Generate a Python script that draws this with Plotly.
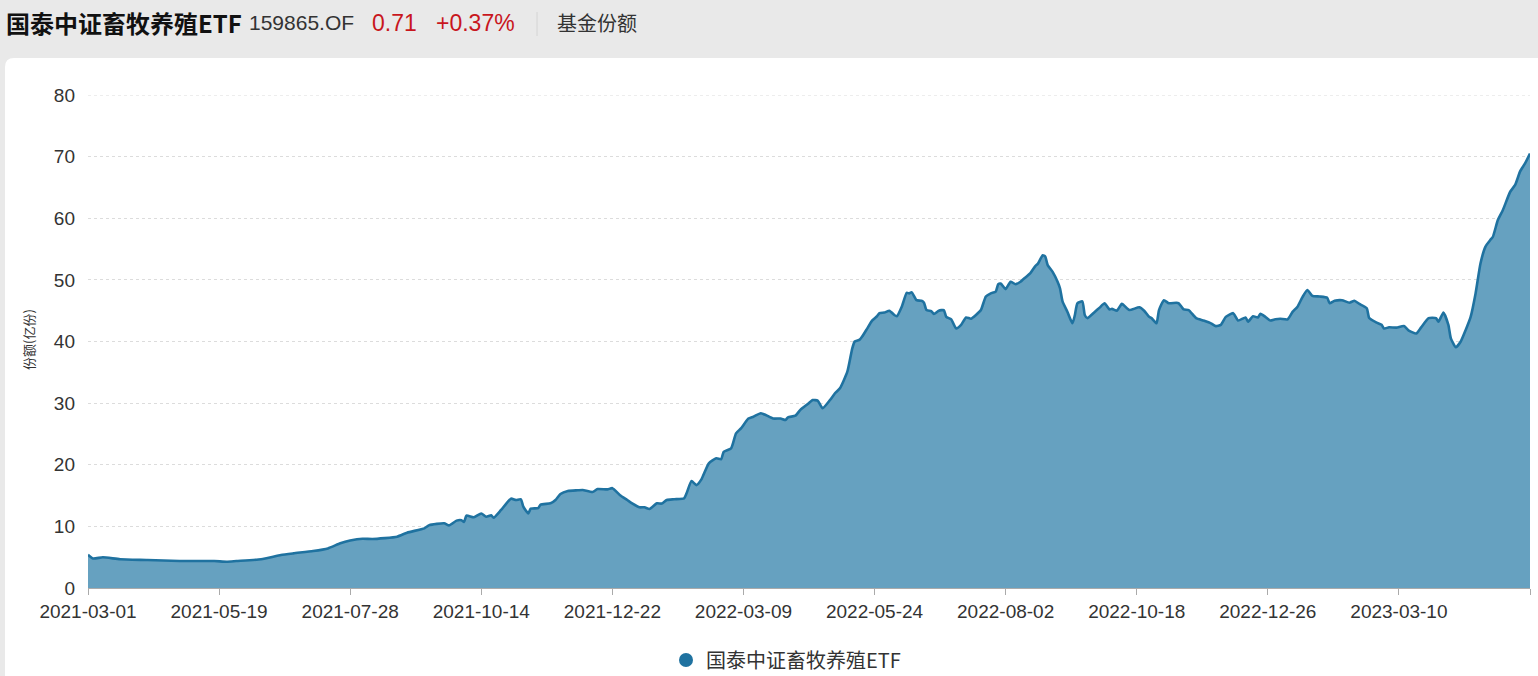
import plotly.graph_objects as go

# ---- data (trading-day index since 2021-03-01, fund shares in 亿份) ----
day_index = [0, 2, 6, 13, 24, 37, 51, 56, 60, 70, 78, 83, 91, 97, 102, 106, 111, 115, 125, 129,
             136, 138, 144, 146, 149, 151, 152, 153, 156, 159, 161, 163, 164, 167, 171, 173, 175, 176, 178, 179,
             182, 183, 187, 189, 191, 194, 198, 200, 204, 206, 210, 212, 215, 218, 220, 223, 225, 227, 230, 232,
             234, 237, 241, 242, 244, 246, 248, 251, 254, 256, 257, 260, 262, 264, 267, 269, 272, 274, 277, 280,
             282, 283, 286, 288, 291, 293, 295, 297, 300, 302, 304, 307, 309, 310, 312, 313, 315, 317, 319, 320,
             322, 324, 326, 327, 329, 331, 332, 333, 335, 337, 338, 339, 341, 342, 344, 346, 347, 349, 351, 353,
             355, 357, 359, 361, 363, 365, 367, 368, 369, 371, 373, 375, 377, 379, 381, 383, 384, 386, 387, 388,
             390, 392, 393, 394, 396, 398, 399, 400, 402, 403, 404, 407, 409, 411, 413, 414, 416, 418, 421, 425,
             427, 429, 430, 432, 433, 435, 437, 440, 441, 443, 445, 448, 451, 454, 456, 458, 460, 463, 465, 468,
             469, 471, 473, 474, 476, 478, 480, 482, 485, 487, 489, 491, 493, 495, 498, 501, 502, 504, 507, 510,
             512, 514, 517, 518, 521, 523, 524, 526, 529, 532, 534, 537, 539, 542, 545, 546, 548, 550, 551, 553,
             555, 557, 559, 561, 563, 565, 567, 568, 570, 572, 575, 577, 579, 581, 583]
shares = [5.4, 4.8, 4.98, 4.66, 4.54, 4.38, 4.38, 4.27, 4.38, 4.66, 5.35, 5.62, 6.0, 6.43, 7.25, 7.7, 8.0, 7.95, 8.33, 8.98,
          9.68, 10.2, 10.5, 10.17, 10.93, 11.0, 10.7, 11.74, 11.47, 12.1, 11.57, 11.8, 11.4, 12.66, 14.5, 14.28, 14.4, 13.2, 12.1, 12.87,
          12.95, 13.52, 13.74, 14.28, 15.25, 15.74, 15.85, 15.9, 15.58, 16.06, 16.0, 16.2, 15.1, 14.28, 13.74, 13.09, 13.1, 12.82, 13.74, 13.7,
          14.28, 14.4, 14.55, 15.36, 17.36, 16.7, 17.63, 20.23, 21.04, 20.9, 22.1, 22.67, 25.1, 25.9, 27.5, 27.8, 28.35, 28.07, 27.5, 27.5,
          27.26, 27.7, 27.96, 28.9, 29.86, 30.5, 30.4, 29.16, 30.5, 31.6, 32.4, 35.1, 38.9, 40.0, 40.3, 40.8, 42.1, 43.4, 44.1, 44.6,
          44.7, 45.0, 44.3, 44.1, 45.65, 47.9, 47.8, 48.0, 46.7, 46.6, 46.3, 45.1, 44.9, 44.46, 45.0, 45.1, 44.0, 43.6, 42.1, 42.7,
          43.9, 43.7, 44.3, 45.1, 47.3, 47.8, 48.1, 49.3, 49.4, 48.5, 49.7, 49.3, 49.7, 50.4, 51.1, 52.25, 52.6, 54.0, 53.8, 52.4,
          51.3, 49.7, 48.6, 46.5, 44.8, 42.95, 44.3, 46.2, 46.5, 44.3, 43.8, 44.8, 45.5, 46.2, 45.2, 45.3, 45.0, 46.1, 45.1, 45.55,
          45.0, 44.0, 43.8, 42.95, 45.1, 46.7, 46.2, 46.3, 46.2, 45.2, 45.1, 43.8, 43.4, 42.95, 42.5, 42.7, 44.0, 44.6, 43.4, 43.9,
          43.2, 44.1, 43.9, 44.5, 44.0, 43.4, 43.6, 43.7, 43.6, 44.8, 45.65, 47.2, 48.36, 47.4, 47.3, 47.1, 46.2, 46.6, 46.7, 46.3,
          46.6, 46.1, 45.4, 43.8, 43.05, 42.7, 42.1, 42.3, 42.25, 42.5, 41.76, 41.3, 42.3, 43.8, 43.8, 43.2, 44.7, 42.7, 40.5, 39.06,
          40.0, 41.87, 44.0, 47.8, 52.7, 55.4, 56.5, 57.0, 59.7, 61.3, 64.3, 65.4, 67.6, 68.9, 70.5]
tick_labels = ["2021-03-01", "2021-05-19", "2021-07-28", "2021-10-14", "2021-12-22", "2022-03-09",
               "2022-05-24", "2022-08-02", "2022-10-18", "2022-12-26", "2023-03-10"]
tick_step = 53  # trading days between labelled ticks
series_name = "国泰中证畜牧养殖ETF"

# ---- layout geometry ----
W, H = 1538, 676
L, R, T, B = 88, 8, 95, 88
PW, PH = W - L - R, H - T - B


def px(xp):
    return (xp - L) / PW


def py(yp):
    return (H - B - yp) / PH


LATIN = "Liberation Sans, Noto Sans CJK SC, sans-serif"
CJK = "Noto Sans CJK SC, sans-serif"

fig = go.Figure()
fig.add_trace(go.Scatter(
    x=day_index, y=shares, mode="lines", fill="tozeroy",
    line=dict(color="#1f72a0", width=2.6, shape="spline", smoothing=0.5),
    fillcolor="#66a1c0", showlegend=False, hoverinfo="x+y"))
# legend entry with a round marker
fig.add_trace(go.Scatter(x=[None], y=[None], mode="markers", name=series_name,
                         marker=dict(symbol="circle", size=14, color="#1f72a0")))

tickvals = [i * tick_step for i in range(len(tick_labels))] + [day_index[-1]]
ticktext = tick_labels + [""]

fig.update_xaxes(range=[0, day_index[-1]], tickvals=tickvals, ticktext=ticktext,
                 showgrid=False, zeroline=False, showline=True, linecolor="#aaaaaa", linewidth=1,
                 ticks="outside", ticklen=6, tickcolor="#aaaaaa",
                 tickfont=dict(family=LATIN, size=19, color="#333333"))
fig.update_yaxes(range=[0, 80], dtick=10, showgrid=True, gridcolor="#dcdcdc", griddash="dot",
                 gridwidth=1, zeroline=False, showline=False, ticks="",
                 ticklabelstandoff=12,
                 tickfont=dict(family=LATIN, size=19, color="#333333"))

# white rounded panel behind the chart
r = 9
panel = (f"M {px(5)},{py(H + 10)} L {px(5)},{py(58 + r)} "
         f"Q {px(5)},{py(58)} {px(5 + r)},{py(58)} "
         f"L {px(W + 20)},{py(58)} L {px(W + 20)},{py(H + 10)} Z")
fig.add_shape(type="path", path=panel, xref="paper", yref="paper",
              fillcolor="white", line=dict(width=0), layer="below")
# top gridline (at the range edge)
fig.add_shape(type="line", xref="paper", yref="y", x0=0, x1=1, y0=80, y1=80,
              line=dict(color="#dcdcdc", width=1, dash="dot"), layer="below")
# separator in header
fig.add_shape(type="line", xref="paper", yref="paper", x0=px(537), x1=px(537),
              y0=py(12), y1=py(36), line=dict(color="#d4d4d4", width=1))

hy = py(23)
fig.add_annotation(text="<b>国泰中证畜牧养殖ETF</b>", x=px(4), y=hy, xref="paper", yref="paper",
                   xanchor="left", yanchor="middle", showarrow=False,
                   font=dict(family=CJK, size=24, color="#111111"))
fig.add_annotation(text="159865.OF", x=px(247), y=hy, xref="paper", yref="paper",
                   xanchor="left", yanchor="middle", showarrow=False,
                   font=dict(family=LATIN, size=21, color="#333333"))
fig.add_annotation(text="0.71", x=px(370), y=hy, xref="paper", yref="paper",
                   xanchor="left", yanchor="middle", showarrow=False,
                   font=dict(family=LATIN, size=23, color="#c8161d"))
fig.add_annotation(text="+0.37%", x=px(434), y=hy, xref="paper", yref="paper",
                   xanchor="left", yanchor="middle", showarrow=False,
                   font=dict(family=LATIN, size=23, color="#c8161d"))
fig.add_annotation(text="基金份额", x=px(555), y=hy, xref="paper", yref="paper",
                   xanchor="left", yanchor="middle", showarrow=False,
                   font=dict(family=CJK, size=20, color="#333333"))
# y-axis title
fig.add_annotation(text="份额(亿份)", x=px(28), y=py(340), xref="paper", yref="paper",
                   xanchor="center", yanchor="middle", showarrow=False, textangle=-90,
                   font=dict(family=CJK, size=13, color="#333333"))

fig.update_layout(
    width=W, height=H, margin=dict(l=L, r=R, t=T, b=B, autoexpand=False),
    paper_bgcolor="#e9e9e9", plot_bgcolor="rgba(0,0,0,0)",
    showlegend=True,
    legend=dict(orientation="h", x=px(786), xanchor="center", y=py(660), yanchor="middle",
                font=dict(family=CJK, size=20, color="#333333"), bgcolor="rgba(0,0,0,0)"),
)

fig.write_html("out.html", config={"displayModeBar": False},
               post_script="document.body.style.margin='0';document.body.style.overflow='hidden';")
